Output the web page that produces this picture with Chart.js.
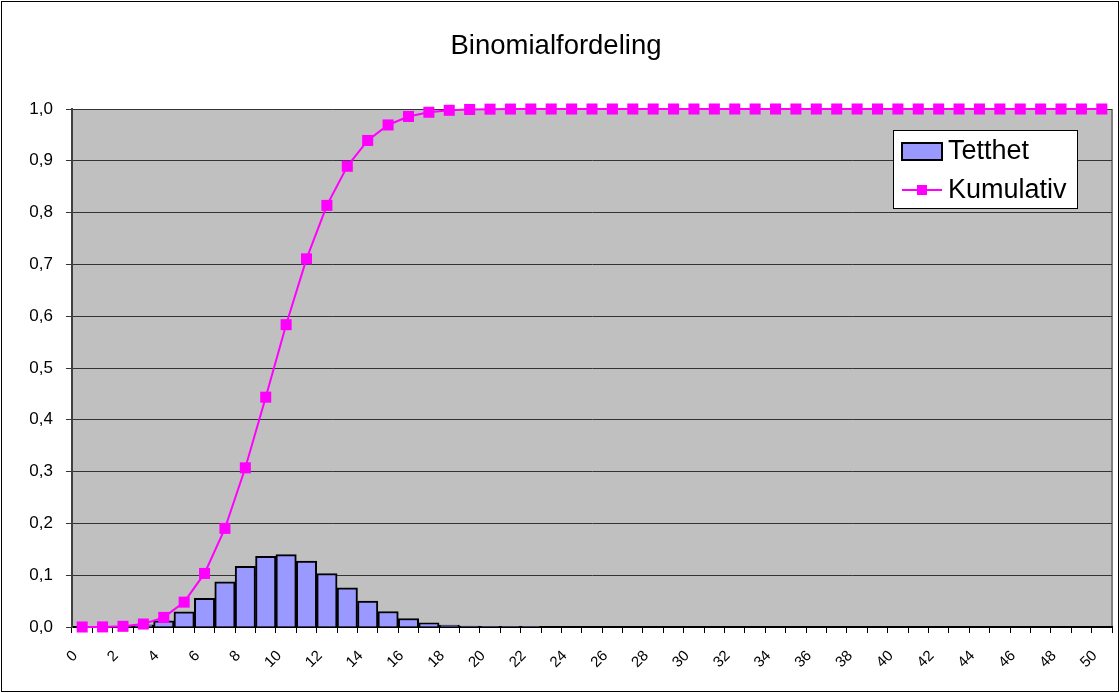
<!DOCTYPE html>
<html>
<head>
<meta charset="utf-8">
<script src="https://cdn.jsdelivr.net/npm/chart.js@4.4.1/dist/chart.umd.min.js"></script>
<style>
  html, body { margin: 0; padding: 0; background: #fff; }
  #wrap { position: relative; width: 1120px; height: 693px; }
</style>
</head>
<body>
<div id="wrap"><canvas id="chart" width="1120" height="693"></canvas></div>
<script>
// x categories 0..50
const categories = ['0','1','2','3','4','5','6','7','8','9','10','11','12','13','14','15','16','17','18','19','20',
  '21','22','23','24','25','26','27','28','29','30','31','32','33','34','35','36','37','38','39','40',
  '41','42','43','44','45','46','47','48','49','50'];

// Tetthet (bars)
const tetthet = [0.0000, 0.0002, 0.0011, 0.0042, 0.0118, 0.0293, 0.0554, 0.0870, 0.1169, 0.1364, 0.1398,
  0.1271, 0.1033, 0.0755, 0.0499, 0.0299, 0.0164, 0.0082, 0.0038, 0.0016, 0.0006,
  0.0002, 0.0001, 0, 0, 0, 0, 0, 0, 0, 0,
  0, 0, 0, 0, 0, 0, 0, 0, 0, 0,
  0, 0, 0, 0, 0, 0, 0, 0, 0, 0];

// Kumulativ (line)
const kumulativ = [0.0000, 0.0002, 0.0013, 0.0057, 0.0185, 0.0480, 0.1034, 0.1904, 0.3073, 0.4437, 0.5836,
  0.7107, 0.8139, 0.8894, 0.9393, 0.9692, 0.9856, 0.9937, 0.9975, 0.9991, 0.9997,
  0.9999, 1.0, 1.0, 1.0, 1.0, 1.0, 1.0, 1.0, 1.0, 1.0,
  1.0, 1.0, 1.0, 1.0, 1.0, 1.0, 1.0, 1.0, 1.0, 1.0,
  1.0, 1.0, 1.0, 1.0, 1.0, 1.0, 1.0, 1.0, 1.0, 1.0];

const FONT = "'Liberation Sans', Arial, sans-serif";

// grey plot background + right frame line
const plotBg = {
    id: 'plotBg',
    beforeDraw(chart) {
        const { ctx, chartArea: a } = chart;
        ctx.save();
        ctx.fillStyle = '#c0c0c0';
        ctx.fillRect(a.left, a.top, a.right - a.left, a.bottom - a.top);
        ctx.strokeStyle = '#808080';
        ctx.lineWidth = 2;
        ctx.beginPath();
        ctx.moveTo(a.right, a.top);
        ctx.lineTo(a.right, a.bottom);
        ctx.stroke();
        ctx.restore();
    }
};

// outer border and boxed legend
const frameAndLegend = {
    id: 'frameAndLegend',
    afterDraw(chart) {
        const ctx = chart.ctx;
        const bar = chart.data.datasets[0];
        const line = chart.data.datasets[1];
        ctx.save();
        ctx.strokeStyle = '#000';
        ctx.lineWidth = 1;
        ctx.strokeRect(1.5, 1.5, 1117, 690);

        // legend box
        ctx.fillStyle = '#fff';
        ctx.fillRect(893, 130, 184, 78);
        ctx.strokeStyle = '#000';
        ctx.lineWidth = 1;
        ctx.strokeRect(893.5, 130.5, 184, 78);

        // Tetthet swatch
        ctx.fillStyle = bar.backgroundColor;
        ctx.fillRect(902, 143, 40, 17);
        ctx.lineWidth = 2;
        ctx.strokeRect(902, 143, 40, 17);

        // Kumulativ line + marker
        ctx.strokeStyle = line.borderColor;
        ctx.lineWidth = 2;
        ctx.beginPath();
        ctx.moveTo(902, 190);
        ctx.lineTo(942, 190);
        ctx.stroke();
        ctx.fillStyle = line.borderColor;
        ctx.fillRect(917, 185, 10, 10);

        ctx.fillStyle = '#000';
        ctx.font = '27px ' + FONT;
        ctx.textBaseline = 'middle';
        ctx.textAlign = 'left';
        ctx.fillText(bar.label, 948, 152);
        ctx.fillText(line.label, 948, 191);
        ctx.restore();
    }
};

new Chart(document.getElementById('chart'), {
    data: {
        labels: categories,
        datasets: [{
            type: 'bar',
            label: 'Tetthet',
            data: tetthet,
            backgroundColor: '#9999ff',
            borderColor: '#000',
            borderWidth: 2,
            categoryPercentage: 1.0,
            barPercentage: 1.0,
            order: 2
        }, {
            type: 'line',
            label: 'Kumulativ',
            data: kumulativ,
            borderColor: '#ff00ff',
            backgroundColor: '#ff00ff',
            borderWidth: 2,
            pointStyle: 'rect',
            pointRadius: 7.8,
            pointBorderWidth: 0,
            tension: 0,
            clip: false,
            order: 1
        }]
    },
    options: {
        responsive: false,
        animation: false,
        events: [],
        layout: { padding: { left: 0, right: 8, top: 0, bottom: 0 } },
        plugins: {
            legend: { display: false },
            tooltip: { enabled: false },
            title: {
                display: true,
                text: 'Binomialfordeling',
                color: '#000',
                font: { family: FONT, size: 27.5, weight: 'normal' },
                padding: { top: 30, bottom: 46 }
            }
        },
        scales: {
            x: {
                offset: true,
                grid: {
                    offset: true,
                    drawOnChartArea: false,
                    tickLength: 6,
                    tickColor: '#000'
                },
                border: { color: '#000', width: 2 },
                ticks: {
                    autoSkip: false,
                    minRotation: 45,
                    maxRotation: 45,
                    labelOffset: -7,
                    padding: 14,
                    color: '#000',
                    font: { family: FONT, size: 15 },
                    callback: function (v, i) { return i % 2 === 0 ? categories[i] : ''; }
                },
                afterFit(scale) {
                    scale.height = 66;
                    scale.paddingLeft = 0;
                    scale.paddingRight = 0;
                }
            },
            y: {
                min: 0,
                max: 1,
                grid: {
                    color: '#333',
                    lineWidth: 1,
                    tickLength: 6,
                    tickColor: '#333'
                },
                border: { color: '#404040', width: 2 },
                ticks: {
                    stepSize: 0.1,
                    padding: 13,
                    color: '#000',
                    font: { family: FONT, size: 17 },
                    callback: v => v.toFixed(1).replace('.', ',')
                },
                afterFit(scale) { scale.width = 72; }
            }
        }
    },
    plugins: [plotBg, frameAndLegend]
});
</script>
</body>
</html>
